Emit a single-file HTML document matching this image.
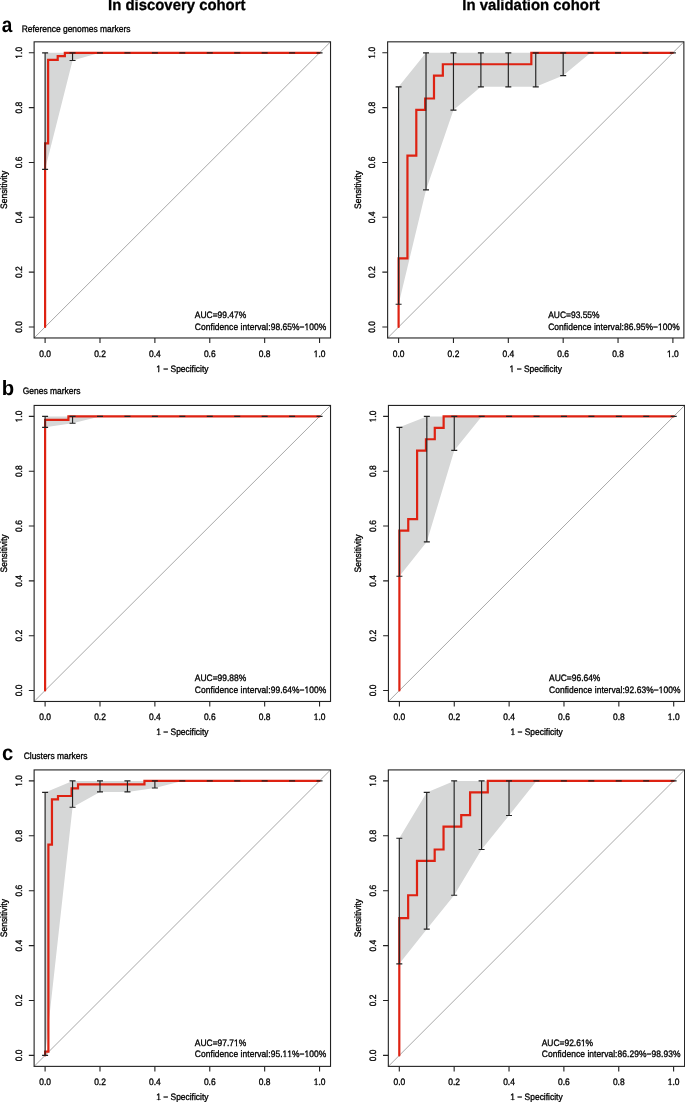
<!DOCTYPE html><html><head><meta charset="utf-8"><style>html,body{margin:0;padding:0;background:#fff;}svg{display:block;will-change:transform;}text{font-family:"Liberation Sans",sans-serif;text-rendering:geometricPrecision;font-kerning:none;}</style></head><body>
<svg width="685" height="1102" viewBox="0 0 685 1102">
<defs><clipPath id="c1" clipPathUnits="userSpaceOnUse"><path clip-rule="evenodd" d="M-2000 -2000H4000V4000H-2000ZM-5.95 -0.79H-3.90V1.00H-5.95ZM-2.84 -0.79H-1.08V1.00H-2.84Z"/></clipPath><clipPath id="c2" clipPathUnits="userSpaceOnUse"><path clip-rule="evenodd" d="M-2000 -2000H4000V4000H-2000ZM-5.95 -0.79H-3.90V1.00H-5.95ZM-2.84 -0.79H-1.08V1.00H-2.84Z"/></clipPath><clipPath id="c3" clipPathUnits="userSpaceOnUse"><path clip-rule="evenodd" d="M-2000 -2000H4000V4000H-2000ZM-26.23 -0.79H-24.18V1.00H-26.23ZM-23.12 -0.79H-21.36V1.00H-23.12Z"/></clipPath><clipPath id="c4" clipPathUnits="userSpaceOnUse"><path clip-rule="evenodd" d="M-2000 -2000H4000V4000H-2000ZM109.65 -0.79H111.70V1.00H109.65ZM112.77 -0.79H114.52V1.00H112.77Z"/></clipPath><clipPath id="c5" clipPathUnits="userSpaceOnUse"><path clip-rule="evenodd" d="M-2000 -2000H4000V4000H-2000ZM-5.95 -0.79H-3.90V1.00H-5.95ZM-2.84 -0.79H-1.08V1.00H-2.84Z"/></clipPath><clipPath id="c6" clipPathUnits="userSpaceOnUse"><path clip-rule="evenodd" d="M-2000 -2000H4000V4000H-2000ZM-5.95 -0.79H-3.90V1.00H-5.95ZM-2.84 -0.79H-1.08V1.00H-2.84Z"/></clipPath><clipPath id="c7" clipPathUnits="userSpaceOnUse"><path clip-rule="evenodd" d="M-2000 -2000H4000V4000H-2000ZM-26.23 -0.79H-24.18V1.00H-26.23ZM-23.12 -0.79H-21.36V1.00H-23.12Z"/></clipPath><clipPath id="c8" clipPathUnits="userSpaceOnUse"><path clip-rule="evenodd" d="M-2000 -2000H4000V4000H-2000ZM109.65 -0.79H111.70V1.00H109.65ZM112.77 -0.79H114.52V1.00H112.77Z"/></clipPath><clipPath id="c9" clipPathUnits="userSpaceOnUse"><path clip-rule="evenodd" d="M-2000 -2000H4000V4000H-2000ZM-5.95 -0.79H-3.90V1.00H-5.95ZM-2.84 -0.79H-1.08V1.00H-2.84Z"/></clipPath><clipPath id="c10" clipPathUnits="userSpaceOnUse"><path clip-rule="evenodd" d="M-2000 -2000H4000V4000H-2000ZM-5.95 -0.79H-3.90V1.00H-5.95ZM-2.84 -0.79H-1.08V1.00H-2.84Z"/></clipPath><clipPath id="c11" clipPathUnits="userSpaceOnUse"><path clip-rule="evenodd" d="M-2000 -2000H4000V4000H-2000ZM-26.23 -0.79H-24.18V1.00H-26.23ZM-23.12 -0.79H-21.36V1.00H-23.12Z"/></clipPath><clipPath id="c12" clipPathUnits="userSpaceOnUse"><path clip-rule="evenodd" d="M-2000 -2000H4000V4000H-2000ZM109.65 -0.79H111.70V1.00H109.65ZM112.77 -0.79H114.52V1.00H112.77Z"/></clipPath><clipPath id="c13" clipPathUnits="userSpaceOnUse"><path clip-rule="evenodd" d="M-2000 -2000H4000V4000H-2000ZM-5.95 -0.79H-3.90V1.00H-5.95ZM-2.84 -0.79H-1.08V1.00H-2.84Z"/></clipPath><clipPath id="c14" clipPathUnits="userSpaceOnUse"><path clip-rule="evenodd" d="M-2000 -2000H4000V4000H-2000ZM-5.95 -0.79H-3.90V1.00H-5.95ZM-2.84 -0.79H-1.08V1.00H-2.84Z"/></clipPath><clipPath id="c15" clipPathUnits="userSpaceOnUse"><path clip-rule="evenodd" d="M-2000 -2000H4000V4000H-2000ZM-26.23 -0.79H-24.18V1.00H-26.23ZM-23.12 -0.79H-21.36V1.00H-23.12Z"/></clipPath><clipPath id="c16" clipPathUnits="userSpaceOnUse"><path clip-rule="evenodd" d="M-2000 -2000H4000V4000H-2000ZM109.65 -0.79H111.70V1.00H109.65ZM112.77 -0.79H114.52V1.00H112.77Z"/></clipPath><clipPath id="c17" clipPathUnits="userSpaceOnUse"><path clip-rule="evenodd" d="M-2000 -2000H4000V4000H-2000ZM-5.95 -0.79H-3.90V1.00H-5.95ZM-2.84 -0.79H-1.08V1.00H-2.84Z"/></clipPath><clipPath id="c18" clipPathUnits="userSpaceOnUse"><path clip-rule="evenodd" d="M-2000 -2000H4000V4000H-2000ZM-5.95 -0.79H-3.90V1.00H-5.95ZM-2.84 -0.79H-1.08V1.00H-2.84Z"/></clipPath><clipPath id="c19" clipPathUnits="userSpaceOnUse"><path clip-rule="evenodd" d="M-2000 -2000H4000V4000H-2000ZM-26.23 -0.79H-24.18V1.00H-26.23ZM-23.12 -0.79H-21.36V1.00H-23.12Z"/></clipPath><clipPath id="c20" clipPathUnits="userSpaceOnUse"><path clip-rule="evenodd" d="M-2000 -2000H4000V4000H-2000ZM39.07 -0.79H41.12V1.00H39.07ZM42.19 -0.79H43.94V1.00H42.19Z"/></clipPath><clipPath id="c21" clipPathUnits="userSpaceOnUse"><path clip-rule="evenodd" d="M-2000 -2000H4000V4000H-2000ZM87.59 -0.79H89.64V1.00H87.59ZM90.70 -0.79H92.46V1.00H90.70ZM92.34 -0.79H94.39V1.00H92.34ZM95.45 -0.79H97.21V1.00H95.45ZM109.65 -0.79H111.70V1.00H109.65ZM112.77 -0.79H114.52V1.00H112.77Z"/></clipPath><clipPath id="c22" clipPathUnits="userSpaceOnUse"><path clip-rule="evenodd" d="M-2000 -2000H4000V4000H-2000ZM-5.95 -0.79H-3.90V1.00H-5.95ZM-2.84 -0.79H-1.08V1.00H-2.84Z"/></clipPath><clipPath id="c23" clipPathUnits="userSpaceOnUse"><path clip-rule="evenodd" d="M-2000 -2000H4000V4000H-2000ZM-5.95 -0.79H-3.90V1.00H-5.95ZM-2.84 -0.79H-1.08V1.00H-2.84Z"/></clipPath><clipPath id="c24" clipPathUnits="userSpaceOnUse"><path clip-rule="evenodd" d="M-2000 -2000H4000V4000H-2000ZM-26.23 -0.79H-24.18V1.00H-26.23ZM-23.12 -0.79H-21.36V1.00H-23.12Z"/></clipPath><clipPath id="c25" clipPathUnits="userSpaceOnUse"><path clip-rule="evenodd" d="M-2000 -2000H4000V4000H-2000ZM39.07 -0.79H41.12V1.00H39.07ZM42.19 -0.79H43.94V1.00H42.19Z"/></clipPath></defs><rect width="685" height="1102" fill="#fff"/>
<text transform="translate(108.1,10.35) scale(1,1.03)" font-size="14.9" font-weight="bold" fill="#000" stroke="#000" stroke-width="0.3">In discovery cohort</text>
<text transform="translate(462.3,10.35) scale(1,1.03)" font-size="14.9" font-weight="bold" fill="#000" stroke="#000" stroke-width="0.3">In validation cohort</text>
<text transform="translate(1.8,32.4) scale(1,1.13)" font-size="19" font-weight="bold" fill="#000">a</text>
<text transform="translate(21.7,31.8) scale(1,1.1)" font-size="8.45" fill="#000" stroke="#000" stroke-width="0.3">Reference genomes markers</text>
<polygon points="45.1,169.34 72.55,60.48 99.99,52.8 127.44,52.8 154.88,52.8 182.32,52.8 209.77,52.8 237.21,52.8 264.66,52.8 292.11,52.8 319.55,52.8 319.55,52.8 292.11,52.8 264.66,52.8 237.21,52.8 209.77,52.8 182.32,52.8 154.88,52.8 127.44,52.8 99.99,52.8 72.55,52.8 45.1,52.8" fill="#d6d7d7" stroke="none"/>
<line x1="34.12" y1="337.97" x2="330.53" y2="41.83" stroke="#a8a8a8" stroke-width="1.0"/>
<polyline points="45.1,327 45.1,143.29 48.12,143.29 48.12,59.93 57.72,59.93 57.72,56.09 64.86,56.09 64.86,52.8 319.55,52.8" fill="none" stroke="#de2212" stroke-width="2.2" stroke-linejoin="miter" stroke-linecap="round"/>
<path d="M45.1 169.34V52.8M42.1 169.34H48.1M42.1 52.8H48.1M72.55 60.48V52.8M69.55 60.48H75.55M69.55 52.8H75.55M96.99 52.8H102.99M124.44 52.8H130.44M151.88 52.8H157.88M179.32 52.8H185.32M206.77 52.8H212.77M234.21 52.8H240.21M261.66 52.8H267.66M289.11 52.8H295.11M316.55 52.8H322.55" stroke="#222" stroke-width="1.15" fill="none"/>
<rect x="34.12" y="41.83" width="296.41" height="296.14" fill="none" stroke="#222" stroke-width="1.1"/>
<path d="M34.12 327H28.82M45.1 337.97V343.07M34.12 272.16H28.82M99.99 337.97V343.07M34.12 217.32H28.82M154.88 337.97V343.07M34.12 162.48H28.82M209.77 337.97V343.07M34.12 107.64H28.82M264.66 337.97V343.07M34.12 52.8H28.82M319.55 337.97V343.07" stroke="#222" stroke-width="1.1" fill="none"/>
<text transform="translate(45.1,356.97) scale(1,1.1)" font-size="8.45" text-anchor="middle" fill="#000" stroke="#000" stroke-width="0.3">0.0</text>
<text transform="translate(21.72,327) rotate(-90) scale(1,1.1)" font-size="8.45" text-anchor="middle" fill="#000" stroke="#000" stroke-width="0.3">0.0</text>
<text transform="translate(99.99,356.97) scale(1,1.1)" font-size="8.45" text-anchor="middle" fill="#000" stroke="#000" stroke-width="0.3">0.2</text>
<text transform="translate(21.72,272.16) rotate(-90) scale(1,1.1)" font-size="8.45" text-anchor="middle" fill="#000" stroke="#000" stroke-width="0.3">0.2</text>
<text transform="translate(154.88,356.97) scale(1,1.1)" font-size="8.45" text-anchor="middle" fill="#000" stroke="#000" stroke-width="0.3">0.4</text>
<text transform="translate(21.72,217.32) rotate(-90) scale(1,1.1)" font-size="8.45" text-anchor="middle" fill="#000" stroke="#000" stroke-width="0.3">0.4</text>
<text transform="translate(209.77,356.97) scale(1,1.1)" font-size="8.45" text-anchor="middle" fill="#000" stroke="#000" stroke-width="0.3">0.6</text>
<text transform="translate(21.72,162.48) rotate(-90) scale(1,1.1)" font-size="8.45" text-anchor="middle" fill="#000" stroke="#000" stroke-width="0.3">0.6</text>
<text transform="translate(264.66,356.97) scale(1,1.1)" font-size="8.45" text-anchor="middle" fill="#000" stroke="#000" stroke-width="0.3">0.8</text>
<text transform="translate(21.72,107.64) rotate(-90) scale(1,1.1)" font-size="8.45" text-anchor="middle" fill="#000" stroke="#000" stroke-width="0.3">0.8</text>
<text clip-path="url(#c1)" transform="translate(319.55,356.97) scale(1,1.1)" font-size="8.45" text-anchor="middle" fill="#000" stroke="#000" stroke-width="0.3">1.0</text>
<text clip-path="url(#c2)" transform="translate(21.72,52.8) rotate(-90) scale(1,1.1)" font-size="8.45" text-anchor="middle" fill="#000" stroke="#000" stroke-width="0.3">1.0</text>
<text clip-path="url(#c3)" transform="translate(182.33,371.97) scale(1,1.1)" font-size="8.45" text-anchor="middle" fill="#000" stroke="#000" stroke-width="0.3">1 − Specificity</text>
<text transform="translate(7.02,189.9) rotate(-90) scale(1,1.1)" font-size="8.45" text-anchor="middle" fill="#000" stroke="#000" stroke-width="0.3">Sensitivity</text>
<text transform="translate(194.86,318.1) scale(1,1.1)" font-size="8.45" fill="#000" stroke="#000" stroke-width="0.3">AUC=99.47%</text>
<text clip-path="url(#c4)" transform="translate(194.86,329.6) scale(1,1.1)" font-size="8.45" fill="#000" stroke="#000" stroke-width="0.3" letter-spacing="0.06">Confidence interval:98.65%−100%</text>
<polygon points="398.6,304.24 426.03,189.9 453.46,110.11 480.89,86.8 508.32,86.8 535.75,86.8 563.18,75.56 590.61,52.8 618.04,52.8 645.47,52.8 672.9,52.8 672.9,52.8 645.47,52.8 618.04,52.8 590.61,52.8 563.18,52.8 535.75,52.8 508.32,52.8 480.89,52.8 453.46,52.8 426.03,52.8 398.6,86.8" fill="#d6d7d7" stroke="none"/>
<line x1="387.63" y1="337.97" x2="683.87" y2="41.83" stroke="#a8a8a8" stroke-width="1.0"/>
<polyline points="398.6,327 398.6,258.45 407.45,258.45 407.45,155.62 416.3,155.62 416.3,109.93 425.15,109.93 425.15,98.5 433.99,98.5 433.99,75.65 442.84,75.65 442.84,64.23 531.33,64.23 531.33,52.8 672.9,52.8" fill="none" stroke="#de2212" stroke-width="2.2" stroke-linejoin="miter" stroke-linecap="round"/>
<path d="M398.6 304.24V86.8M395.6 304.24H401.6M395.6 86.8H401.6M426.03 189.9V52.8M423.03 189.9H429.03M423.03 52.8H429.03M453.46 110.11V52.8M450.46 110.11H456.46M450.46 52.8H456.46M480.89 86.8V52.8M477.89 86.8H483.89M477.89 52.8H483.89M508.32 86.8V52.8M505.32 86.8H511.32M505.32 52.8H511.32M535.75 86.8V52.8M532.75 86.8H538.75M532.75 52.8H538.75M563.18 75.56V52.8M560.18 75.56H566.18M560.18 52.8H566.18M587.61 52.8H593.61M615.04 52.8H621.04M642.47 52.8H648.47M669.9 52.8H675.9" stroke="#222" stroke-width="1.15" fill="none"/>
<rect x="387.63" y="41.83" width="296.24" height="296.14" fill="none" stroke="#222" stroke-width="1.1"/>
<path d="M387.63 327H382.33M398.6 337.97V343.07M387.63 272.16H382.33M453.46 337.97V343.07M387.63 217.32H382.33M508.32 337.97V343.07M387.63 162.48H382.33M563.18 337.97V343.07M387.63 107.64H382.33M618.04 337.97V343.07M387.63 52.8H382.33M672.9 337.97V343.07" stroke="#222" stroke-width="1.1" fill="none"/>
<text transform="translate(398.6,356.97) scale(1,1.1)" font-size="8.45" text-anchor="middle" fill="#000" stroke="#000" stroke-width="0.3">0.0</text>
<text transform="translate(375.23,327) rotate(-90) scale(1,1.1)" font-size="8.45" text-anchor="middle" fill="#000" stroke="#000" stroke-width="0.3">0.0</text>
<text transform="translate(453.46,356.97) scale(1,1.1)" font-size="8.45" text-anchor="middle" fill="#000" stroke="#000" stroke-width="0.3">0.2</text>
<text transform="translate(375.23,272.16) rotate(-90) scale(1,1.1)" font-size="8.45" text-anchor="middle" fill="#000" stroke="#000" stroke-width="0.3">0.2</text>
<text transform="translate(508.32,356.97) scale(1,1.1)" font-size="8.45" text-anchor="middle" fill="#000" stroke="#000" stroke-width="0.3">0.4</text>
<text transform="translate(375.23,217.32) rotate(-90) scale(1,1.1)" font-size="8.45" text-anchor="middle" fill="#000" stroke="#000" stroke-width="0.3">0.4</text>
<text transform="translate(563.18,356.97) scale(1,1.1)" font-size="8.45" text-anchor="middle" fill="#000" stroke="#000" stroke-width="0.3">0.6</text>
<text transform="translate(375.23,162.48) rotate(-90) scale(1,1.1)" font-size="8.45" text-anchor="middle" fill="#000" stroke="#000" stroke-width="0.3">0.6</text>
<text transform="translate(618.04,356.97) scale(1,1.1)" font-size="8.45" text-anchor="middle" fill="#000" stroke="#000" stroke-width="0.3">0.8</text>
<text transform="translate(375.23,107.64) rotate(-90) scale(1,1.1)" font-size="8.45" text-anchor="middle" fill="#000" stroke="#000" stroke-width="0.3">0.8</text>
<text clip-path="url(#c5)" transform="translate(672.9,356.97) scale(1,1.1)" font-size="8.45" text-anchor="middle" fill="#000" stroke="#000" stroke-width="0.3">1.0</text>
<text clip-path="url(#c6)" transform="translate(375.23,52.8) rotate(-90) scale(1,1.1)" font-size="8.45" text-anchor="middle" fill="#000" stroke="#000" stroke-width="0.3">1.0</text>
<text clip-path="url(#c7)" transform="translate(535.75,371.97) scale(1,1.1)" font-size="8.45" text-anchor="middle" fill="#000" stroke="#000" stroke-width="0.3">1 − Specificity</text>
<text transform="translate(360.53,189.9) rotate(-90) scale(1,1.1)" font-size="8.45" text-anchor="middle" fill="#000" stroke="#000" stroke-width="0.3">Sensitivity</text>
<text transform="translate(548.21,318.1) scale(1,1.1)" font-size="8.45" fill="#000" stroke="#000" stroke-width="0.3">AUC=93.55%</text>
<text clip-path="url(#c8)" transform="translate(548.21,329.6) scale(1,1.1)" font-size="8.45" fill="#000" stroke="#000" stroke-width="0.3" letter-spacing="0.06">Confidence interval:86.95%−100%</text>
<text transform="translate(1.7,394.7) scale(1,1.02)" font-size="20.3" font-weight="bold" fill="#000">b</text>
<text transform="translate(22.8,394) scale(1,1.1)" font-size="8.45" fill="#000" stroke="#000" stroke-width="0.3">Genes markers</text>
<polygon points="45.1,427.36 72.55,423.25 99.99,416.4 127.44,416.4 154.88,416.4 182.32,416.4 209.77,416.4 237.21,416.4 264.66,416.4 292.11,416.4 319.55,416.4 319.55,416.4 292.11,416.4 264.66,416.4 237.21,416.4 209.77,416.4 182.32,416.4 154.88,416.4 127.44,416.4 99.99,416.4 72.55,416.4 45.1,416.4" fill="#d6d7d7" stroke="none"/>
<line x1="34.12" y1="701.46" x2="330.53" y2="405.44" stroke="#a8a8a8" stroke-width="1.0"/>
<polyline points="45.1,690.5 45.1,419.96 68.43,419.96 68.43,416.4 319.55,416.4" fill="none" stroke="#de2212" stroke-width="2.2" stroke-linejoin="miter" stroke-linecap="round"/>
<path d="M45.1 427.36V416.4M42.1 427.36H48.1M42.1 416.4H48.1M72.55 423.25V416.4M69.55 423.25H75.55M69.55 416.4H75.55M96.99 416.4H102.99M124.44 416.4H130.44M151.88 416.4H157.88M179.32 416.4H185.32M206.77 416.4H212.77M234.21 416.4H240.21M261.66 416.4H267.66M289.11 416.4H295.11M316.55 416.4H322.55" stroke="#222" stroke-width="1.15" fill="none"/>
<rect x="34.12" y="405.44" width="296.41" height="296.03" fill="none" stroke="#222" stroke-width="1.1"/>
<path d="M34.12 690.5H28.82M45.1 701.46V706.56M34.12 635.68H28.82M99.99 701.46V706.56M34.12 580.86H28.82M154.88 701.46V706.56M34.12 526.04H28.82M209.77 701.46V706.56M34.12 471.22H28.82M264.66 701.46V706.56M34.12 416.4H28.82M319.55 701.46V706.56" stroke="#222" stroke-width="1.1" fill="none"/>
<text transform="translate(45.1,720.46) scale(1,1.1)" font-size="8.45" text-anchor="middle" fill="#000" stroke="#000" stroke-width="0.3">0.0</text>
<text transform="translate(21.72,690.5) rotate(-90) scale(1,1.1)" font-size="8.45" text-anchor="middle" fill="#000" stroke="#000" stroke-width="0.3">0.0</text>
<text transform="translate(99.99,720.46) scale(1,1.1)" font-size="8.45" text-anchor="middle" fill="#000" stroke="#000" stroke-width="0.3">0.2</text>
<text transform="translate(21.72,635.68) rotate(-90) scale(1,1.1)" font-size="8.45" text-anchor="middle" fill="#000" stroke="#000" stroke-width="0.3">0.2</text>
<text transform="translate(154.88,720.46) scale(1,1.1)" font-size="8.45" text-anchor="middle" fill="#000" stroke="#000" stroke-width="0.3">0.4</text>
<text transform="translate(21.72,580.86) rotate(-90) scale(1,1.1)" font-size="8.45" text-anchor="middle" fill="#000" stroke="#000" stroke-width="0.3">0.4</text>
<text transform="translate(209.77,720.46) scale(1,1.1)" font-size="8.45" text-anchor="middle" fill="#000" stroke="#000" stroke-width="0.3">0.6</text>
<text transform="translate(21.72,526.04) rotate(-90) scale(1,1.1)" font-size="8.45" text-anchor="middle" fill="#000" stroke="#000" stroke-width="0.3">0.6</text>
<text transform="translate(264.66,720.46) scale(1,1.1)" font-size="8.45" text-anchor="middle" fill="#000" stroke="#000" stroke-width="0.3">0.8</text>
<text transform="translate(21.72,471.22) rotate(-90) scale(1,1.1)" font-size="8.45" text-anchor="middle" fill="#000" stroke="#000" stroke-width="0.3">0.8</text>
<text clip-path="url(#c9)" transform="translate(319.55,720.46) scale(1,1.1)" font-size="8.45" text-anchor="middle" fill="#000" stroke="#000" stroke-width="0.3">1.0</text>
<text clip-path="url(#c10)" transform="translate(21.72,416.4) rotate(-90) scale(1,1.1)" font-size="8.45" text-anchor="middle" fill="#000" stroke="#000" stroke-width="0.3">1.0</text>
<text clip-path="url(#c11)" transform="translate(182.33,735.46) scale(1,1.1)" font-size="8.45" text-anchor="middle" fill="#000" stroke="#000" stroke-width="0.3">1 − Specificity</text>
<text transform="translate(7.02,553.45) rotate(-90) scale(1,1.1)" font-size="8.45" text-anchor="middle" fill="#000" stroke="#000" stroke-width="0.3">Sensitivity</text>
<text transform="translate(194.86,681.3) scale(1,1.1)" font-size="8.45" fill="#000" stroke="#000" stroke-width="0.3">AUC=99.88%</text>
<text clip-path="url(#c12)" transform="translate(194.86,692.8) scale(1,1.1)" font-size="8.45" fill="#000" stroke="#000" stroke-width="0.3" letter-spacing="0.06">Confidence interval:99.64%−100%</text>
<polygon points="399.4,576.2 426.83,541.8 454.26,450.39 481.69,416.4 509.12,416.4 536.55,416.4 563.98,416.4 591.41,416.4 618.84,416.4 646.27,416.4 673.7,416.4 673.7,416.4 646.27,416.4 618.84,416.4 591.41,416.4 563.98,416.4 536.55,416.4 509.12,416.4 481.69,416.4 454.26,416.4 426.83,416.4 399.4,427.36" fill="#d6d7d7" stroke="none"/>
<line x1="388.43" y1="701.46" x2="684.67" y2="405.44" stroke="#a8a8a8" stroke-width="1.0"/>
<polyline points="399.4,690.5 399.4,530.61 408.25,530.61 408.25,519.19 417.1,519.19 417.1,450.66 425.95,450.66 425.95,439.24 434.79,439.24 434.79,427.82 443.64,427.82 443.64,416.4 673.7,416.4" fill="none" stroke="#de2212" stroke-width="2.2" stroke-linejoin="miter" stroke-linecap="round"/>
<path d="M399.4 576.2V427.36M396.4 576.2H402.4M396.4 427.36H402.4M426.83 541.8V416.4M423.83 541.8H429.83M423.83 416.4H429.83M454.26 450.39V416.4M451.26 450.39H457.26M451.26 416.4H457.26M478.69 416.4H484.69M506.12 416.4H512.12M533.55 416.4H539.55M560.98 416.4H566.98M588.41 416.4H594.41M615.84 416.4H621.84M643.27 416.4H649.27M670.7 416.4H676.7" stroke="#222" stroke-width="1.15" fill="none"/>
<rect x="388.43" y="405.44" width="296.24" height="296.03" fill="none" stroke="#222" stroke-width="1.1"/>
<path d="M388.43 690.5H383.13M399.4 701.46V706.56M388.43 635.68H383.13M454.26 701.46V706.56M388.43 580.86H383.13M509.12 701.46V706.56M388.43 526.04H383.13M563.98 701.46V706.56M388.43 471.22H383.13M618.84 701.46V706.56M388.43 416.4H383.13M673.7 701.46V706.56" stroke="#222" stroke-width="1.1" fill="none"/>
<text transform="translate(399.4,720.46) scale(1,1.1)" font-size="8.45" text-anchor="middle" fill="#000" stroke="#000" stroke-width="0.3">0.0</text>
<text transform="translate(376.03,690.5) rotate(-90) scale(1,1.1)" font-size="8.45" text-anchor="middle" fill="#000" stroke="#000" stroke-width="0.3">0.0</text>
<text transform="translate(454.26,720.46) scale(1,1.1)" font-size="8.45" text-anchor="middle" fill="#000" stroke="#000" stroke-width="0.3">0.2</text>
<text transform="translate(376.03,635.68) rotate(-90) scale(1,1.1)" font-size="8.45" text-anchor="middle" fill="#000" stroke="#000" stroke-width="0.3">0.2</text>
<text transform="translate(509.12,720.46) scale(1,1.1)" font-size="8.45" text-anchor="middle" fill="#000" stroke="#000" stroke-width="0.3">0.4</text>
<text transform="translate(376.03,580.86) rotate(-90) scale(1,1.1)" font-size="8.45" text-anchor="middle" fill="#000" stroke="#000" stroke-width="0.3">0.4</text>
<text transform="translate(563.98,720.46) scale(1,1.1)" font-size="8.45" text-anchor="middle" fill="#000" stroke="#000" stroke-width="0.3">0.6</text>
<text transform="translate(376.03,526.04) rotate(-90) scale(1,1.1)" font-size="8.45" text-anchor="middle" fill="#000" stroke="#000" stroke-width="0.3">0.6</text>
<text transform="translate(618.84,720.46) scale(1,1.1)" font-size="8.45" text-anchor="middle" fill="#000" stroke="#000" stroke-width="0.3">0.8</text>
<text transform="translate(376.03,471.22) rotate(-90) scale(1,1.1)" font-size="8.45" text-anchor="middle" fill="#000" stroke="#000" stroke-width="0.3">0.8</text>
<text clip-path="url(#c13)" transform="translate(673.7,720.46) scale(1,1.1)" font-size="8.45" text-anchor="middle" fill="#000" stroke="#000" stroke-width="0.3">1.0</text>
<text clip-path="url(#c14)" transform="translate(376.03,416.4) rotate(-90) scale(1,1.1)" font-size="8.45" text-anchor="middle" fill="#000" stroke="#000" stroke-width="0.3">1.0</text>
<text clip-path="url(#c15)" transform="translate(536.55,735.46) scale(1,1.1)" font-size="8.45" text-anchor="middle" fill="#000" stroke="#000" stroke-width="0.3">1 − Specificity</text>
<text transform="translate(361.33,553.45) rotate(-90) scale(1,1.1)" font-size="8.45" text-anchor="middle" fill="#000" stroke="#000" stroke-width="0.3">Sensitivity</text>
<text transform="translate(549.01,681.3) scale(1,1.1)" font-size="8.45" fill="#000" stroke="#000" stroke-width="0.3">AUC=96.64%</text>
<text clip-path="url(#c16)" transform="translate(549.01,692.8) scale(1,1.1)" font-size="8.45" fill="#000" stroke="#000" stroke-width="0.3" letter-spacing="0.06">Confidence interval:92.63%−100%</text>
<text transform="translate(2,760.1) scale(1,1.05)" font-size="20.3" font-weight="bold" fill="#000">c</text>
<text transform="translate(23.7,759) scale(1,1.1)" font-size="8.45" fill="#000" stroke="#000" stroke-width="0.3">Clusters markers</text>
<polygon points="45.1,1055.4 72.55,807.25 99.99,791.88 127.44,791.88 154.88,788.04 182.32,780.9 209.77,780.9 237.21,780.9 264.66,780.9 292.11,780.9 319.55,780.9 319.55,780.9 292.11,780.9 264.66,780.9 237.21,780.9 209.77,780.9 182.32,780.9 154.88,780.9 127.44,780.9 99.99,780.9 72.55,780.9 45.1,792.43" fill="#d6d7d7" stroke="none"/>
<line x1="34.12" y1="1066.38" x2="330.53" y2="769.92" stroke="#a8a8a8" stroke-width="1.0"/>
<polyline points="45.1,1055.4 45.1,1051.69 48.39,1051.69 48.39,844.58 51.96,844.58 51.96,799.29 58,799.29 58,796 71.61,796 71.61,788.31 78.03,788.31 78.03,784.47 144.45,784.47 144.45,780.9 319.55,780.9" fill="none" stroke="#de2212" stroke-width="2.2" stroke-linejoin="miter" stroke-linecap="round"/>
<path d="M45.1 1055.4V792.43M42.1 1055.4H48.1M42.1 792.43H48.1M72.55 807.25V780.9M69.55 807.25H75.55M69.55 780.9H75.55M99.99 791.88V780.9M96.99 791.88H102.99M96.99 780.9H102.99M127.44 791.88V780.9M124.44 791.88H130.44M124.44 780.9H130.44M154.88 788.04V780.9M151.88 788.04H157.88M151.88 780.9H157.88M179.32 780.9H185.32M206.77 780.9H212.77M234.21 780.9H240.21M261.66 780.9H267.66M289.11 780.9H295.11M316.55 780.9H322.55" stroke="#222" stroke-width="1.15" fill="none"/>
<rect x="34.12" y="769.92" width="296.41" height="296.46" fill="none" stroke="#222" stroke-width="1.1"/>
<path d="M34.12 1055.4H28.82M45.1 1066.38V1071.48M34.12 1000.5H28.82M99.99 1066.38V1071.48M34.12 945.6H28.82M154.88 1066.38V1071.48M34.12 890.7H28.82M209.77 1066.38V1071.48M34.12 835.8H28.82M264.66 1066.38V1071.48M34.12 780.9H28.82M319.55 1066.38V1071.48" stroke="#222" stroke-width="1.1" fill="none"/>
<text transform="translate(45.1,1085.38) scale(1,1.1)" font-size="8.45" text-anchor="middle" fill="#000" stroke="#000" stroke-width="0.3">0.0</text>
<text transform="translate(21.72,1055.4) rotate(-90) scale(1,1.1)" font-size="8.45" text-anchor="middle" fill="#000" stroke="#000" stroke-width="0.3">0.0</text>
<text transform="translate(99.99,1085.38) scale(1,1.1)" font-size="8.45" text-anchor="middle" fill="#000" stroke="#000" stroke-width="0.3">0.2</text>
<text transform="translate(21.72,1000.5) rotate(-90) scale(1,1.1)" font-size="8.45" text-anchor="middle" fill="#000" stroke="#000" stroke-width="0.3">0.2</text>
<text transform="translate(154.88,1085.38) scale(1,1.1)" font-size="8.45" text-anchor="middle" fill="#000" stroke="#000" stroke-width="0.3">0.4</text>
<text transform="translate(21.72,945.6) rotate(-90) scale(1,1.1)" font-size="8.45" text-anchor="middle" fill="#000" stroke="#000" stroke-width="0.3">0.4</text>
<text transform="translate(209.77,1085.38) scale(1,1.1)" font-size="8.45" text-anchor="middle" fill="#000" stroke="#000" stroke-width="0.3">0.6</text>
<text transform="translate(21.72,890.7) rotate(-90) scale(1,1.1)" font-size="8.45" text-anchor="middle" fill="#000" stroke="#000" stroke-width="0.3">0.6</text>
<text transform="translate(264.66,1085.38) scale(1,1.1)" font-size="8.45" text-anchor="middle" fill="#000" stroke="#000" stroke-width="0.3">0.8</text>
<text transform="translate(21.72,835.8) rotate(-90) scale(1,1.1)" font-size="8.45" text-anchor="middle" fill="#000" stroke="#000" stroke-width="0.3">0.8</text>
<text clip-path="url(#c17)" transform="translate(319.55,1085.38) scale(1,1.1)" font-size="8.45" text-anchor="middle" fill="#000" stroke="#000" stroke-width="0.3">1.0</text>
<text clip-path="url(#c18)" transform="translate(21.72,780.9) rotate(-90) scale(1,1.1)" font-size="8.45" text-anchor="middle" fill="#000" stroke="#000" stroke-width="0.3">1.0</text>
<text clip-path="url(#c19)" transform="translate(182.33,1100.38) scale(1,1.1)" font-size="8.45" text-anchor="middle" fill="#000" stroke="#000" stroke-width="0.3">1 − Specificity</text>
<text transform="translate(7.02,918.15) rotate(-90) scale(1,1.1)" font-size="8.45" text-anchor="middle" fill="#000" stroke="#000" stroke-width="0.3">Sensitivity</text>
<text clip-path="url(#c20)" transform="translate(194.86,1045.7) scale(1,1.1)" font-size="8.45" fill="#000" stroke="#000" stroke-width="0.3">AUC=97.71%</text>
<text clip-path="url(#c21)" transform="translate(194.86,1057.2) scale(1,1.1)" font-size="8.45" fill="#000" stroke="#000" stroke-width="0.3" letter-spacing="0.06">Confidence interval:95.11%−100%</text>
<polygon points="399.3,963.85 426.73,929.13 454.16,895.23 481.59,849.52 509.02,815.49 536.45,780.9 563.88,780.9 591.31,780.9 618.74,780.9 646.17,780.9 673.6,780.9 673.6,780.9 646.17,780.9 618.74,780.9 591.31,780.9 563.88,780.9 536.45,780.9 509.02,780.9 481.59,780.9 454.16,780.9 426.73,792.43 399.3,838.27" fill="#d6d7d7" stroke="none"/>
<line x1="388.33" y1="1066.38" x2="684.57" y2="769.92" stroke="#a8a8a8" stroke-width="1.0"/>
<polyline points="399.3,1055.4 399.3,918.15 408.15,918.15 408.15,895.27 417,895.27 417,860.96 434.69,860.96 434.69,849.52 443.54,849.52 443.54,826.65 461.24,826.65 461.24,815.21 470.09,815.21 470.09,792.34 487.78,792.34 487.78,780.9 673.6,780.9" fill="none" stroke="#de2212" stroke-width="2.2" stroke-linejoin="miter" stroke-linecap="round"/>
<path d="M399.3 963.85V838.27M396.3 963.85H402.3M396.3 838.27H402.3M426.73 929.13V792.43M423.73 929.13H429.73M423.73 792.43H429.73M454.16 895.23V780.9M451.16 895.23H457.16M451.16 780.9H457.16M481.59 849.52V780.9M478.59 849.52H484.59M478.59 780.9H484.59M509.02 815.49V780.9M506.02 815.49H512.02M506.02 780.9H512.02M533.45 780.9H539.45M560.88 780.9H566.88M588.31 780.9H594.31M615.74 780.9H621.74M643.17 780.9H649.17M670.6 780.9H676.6" stroke="#222" stroke-width="1.15" fill="none"/>
<rect x="388.33" y="769.92" width="296.24" height="296.46" fill="none" stroke="#222" stroke-width="1.1"/>
<path d="M388.33 1055.4H383.03M399.3 1066.38V1071.48M388.33 1000.5H383.03M454.16 1066.38V1071.48M388.33 945.6H383.03M509.02 1066.38V1071.48M388.33 890.7H383.03M563.88 1066.38V1071.48M388.33 835.8H383.03M618.74 1066.38V1071.48M388.33 780.9H383.03M673.6 1066.38V1071.48" stroke="#222" stroke-width="1.1" fill="none"/>
<text transform="translate(399.3,1085.38) scale(1,1.1)" font-size="8.45" text-anchor="middle" fill="#000" stroke="#000" stroke-width="0.3">0.0</text>
<text transform="translate(375.93,1055.4) rotate(-90) scale(1,1.1)" font-size="8.45" text-anchor="middle" fill="#000" stroke="#000" stroke-width="0.3">0.0</text>
<text transform="translate(454.16,1085.38) scale(1,1.1)" font-size="8.45" text-anchor="middle" fill="#000" stroke="#000" stroke-width="0.3">0.2</text>
<text transform="translate(375.93,1000.5) rotate(-90) scale(1,1.1)" font-size="8.45" text-anchor="middle" fill="#000" stroke="#000" stroke-width="0.3">0.2</text>
<text transform="translate(509.02,1085.38) scale(1,1.1)" font-size="8.45" text-anchor="middle" fill="#000" stroke="#000" stroke-width="0.3">0.4</text>
<text transform="translate(375.93,945.6) rotate(-90) scale(1,1.1)" font-size="8.45" text-anchor="middle" fill="#000" stroke="#000" stroke-width="0.3">0.4</text>
<text transform="translate(563.88,1085.38) scale(1,1.1)" font-size="8.45" text-anchor="middle" fill="#000" stroke="#000" stroke-width="0.3">0.6</text>
<text transform="translate(375.93,890.7) rotate(-90) scale(1,1.1)" font-size="8.45" text-anchor="middle" fill="#000" stroke="#000" stroke-width="0.3">0.6</text>
<text transform="translate(618.74,1085.38) scale(1,1.1)" font-size="8.45" text-anchor="middle" fill="#000" stroke="#000" stroke-width="0.3">0.8</text>
<text transform="translate(375.93,835.8) rotate(-90) scale(1,1.1)" font-size="8.45" text-anchor="middle" fill="#000" stroke="#000" stroke-width="0.3">0.8</text>
<text clip-path="url(#c22)" transform="translate(673.6,1085.38) scale(1,1.1)" font-size="8.45" text-anchor="middle" fill="#000" stroke="#000" stroke-width="0.3">1.0</text>
<text clip-path="url(#c23)" transform="translate(375.93,780.9) rotate(-90) scale(1,1.1)" font-size="8.45" text-anchor="middle" fill="#000" stroke="#000" stroke-width="0.3">1.0</text>
<text clip-path="url(#c24)" transform="translate(536.45,1100.38) scale(1,1.1)" font-size="8.45" text-anchor="middle" fill="#000" stroke="#000" stroke-width="0.3">1 − Specificity</text>
<text transform="translate(361.23,918.15) rotate(-90) scale(1,1.1)" font-size="8.45" text-anchor="middle" fill="#000" stroke="#000" stroke-width="0.3">Sensitivity</text>
<text clip-path="url(#c25)" transform="translate(541.74,1045.7) scale(1,1.1)" font-size="8.45" fill="#000" stroke="#000" stroke-width="0.3">AUC=92.61%</text>
<text transform="translate(541.74,1057.2) scale(1,1.1)" font-size="8.45" fill="#000" stroke="#000" stroke-width="0.3" letter-spacing="0.06">Confidence interval:86.29%−98.93%</text>
</svg></body></html>
